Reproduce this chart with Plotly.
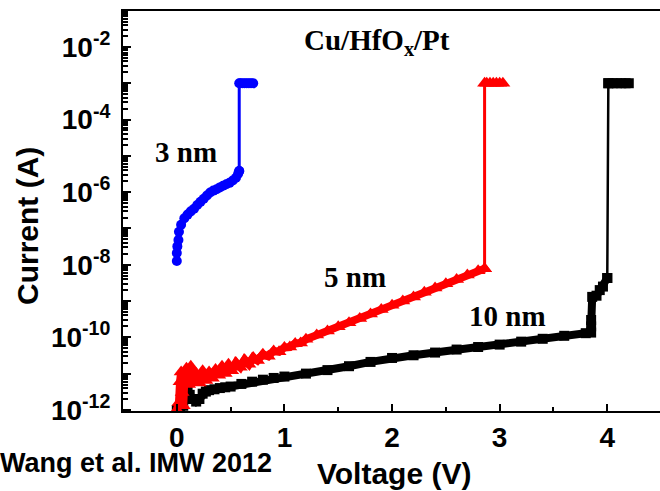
import plotly.graph_objects as go

# ---- measured I-V sweeps for Cu/HfOx/Pt cells of three thicknesses ----
# 3 nm (blue circles): forming sweep, then set jump to compliance
blue_sweep_v = [0.00, 0.00, 0.005, 0.015, 0.02, 0.04, 0.07, 0.10, 0.13, 0.16, 0.19, 0.22,
                0.25, 0.28, 0.31, 0.34, 0.37, 0.40, 0.43, 0.46, 0.49, 0.52, 0.55, 0.57, 0.58]
blue_sweep_i = [1.26e-8, 2.1e-8, 3.2e-8, 4.8e-8, 8.1e-8, 1.26e-7, 1.9e-7, 2.4e-7, 2.95e-7,
                3.5e-7, 4.4e-7, 5.4e-7, 6.6e-7, 8.1e-7, 9.8e-7, 1.1e-6, 1.2e-6, 1.35e-6,
                1.5e-6, 1.65e-6, 1.8e-6, 2.1e-6, 2.5e-6, 3.2e-6, 3.8e-6]
blue_set_v = [0.58, 0.58, 0.59, 0.61, 0.63, 0.65, 0.67, 0.69, 0.71]
blue_set_i = [3.8e-6, 1e-3, 1e-3, 1e-3, 1e-3, 1e-3, 1e-3, 1e-3, 1e-3]

# 5 nm (red triangles)
red_sweep_v = [0.00, 0.02, 0.03, 0.04, 0.05, 0.06, 0.07, 0.09, 0.11, 0.13, 0.15, 0.18, 0.21,
               0.24, 0.27, 0.30, 0.33, 0.36, 0.39, 0.42, 0.45, 0.48, 0.51, 0.55, 0.59, 0.63,
               0.67, 0.71, 0.75, 0.80, 0.85, 0.90, 0.95, 1.00, 1.05, 1.10, 1.15, 1.20, 1.30,
               1.40, 1.50, 1.60, 1.70, 1.80, 1.90, 2.00, 2.10, 2.20, 2.30, 2.40, 2.50, 2.60,
               2.70, 2.80, 2.86]
red_sweep_i = [1.0e-12, 1.6e-12, 6.0e-12, 1.1e-11, 3.0e-12, 1.3e-12, 7.0e-12, 1.4e-11,
               5.0e-12, 1.6e-11, 6.0e-12, 1.0e-11, 5.5e-12, 1.2e-11, 6.5e-12, 1.1e-11,
               7.5e-12, 1.3e-11, 9.0e-12, 1.6e-11, 1.0e-11, 1.8e-11, 1.2e-11, 2.0e-11,
               1.5e-11, 2.4e-11, 1.8e-11, 2.8e-11, 2.3e-11, 3.4e-11, 3.0e-11, 4.2e-11,
               4.0e-11, 5.2e-11, 5.4e-11, 6.8e-11, 7.0e-11, 8.8e-11, 1.15e-10, 1.5e-10,
               1.95e-10, 2.5e-10, 3.3e-10, 4.4e-10, 5.8e-10, 7.6e-10, 1.0e-9, 1.3e-9,
               1.75e-9, 2.3e-9, 3.0e-9, 3.9e-9, 5.2e-9, 6.8e-9, 7.8e-9]
red_set_v = [2.86, 2.86, 2.88, 2.91, 2.94, 2.97, 3.00, 3.03]
red_set_i = [7.8e-9, 1e-3, 1e-3, 1e-3, 1e-3, 1e-3, 1e-3, 1e-3]

# 10 nm (black squares)
black_sweep_v = [0.00, 0.03, 0.06, 0.08, 0.10, 0.12, 0.15, 0.18, 0.21, 0.24, 0.27, 0.30,
                 0.35, 0.40, 0.45, 0.50, 0.60, 0.70, 0.80, 0.90, 1.00, 1.20, 1.40, 1.60,
                 1.80, 2.00, 2.20, 2.40, 2.60, 2.80, 3.00, 3.20, 3.40, 3.60, 3.80, 3.85,
                 3.85, 3.85, 3.86, 3.90, 3.93, 3.96, 4.00]
black_sweep_i = [1.0e-12, 1.0e-12, 1.3e-12, 2.8e-12, 3.2e-12, 2.6e-12, 2.0e-12, 1.7e-12,
                 2.0e-12, 2.8e-12, 3.2e-12, 3.5e-12, 3.7e-12, 4.0e-12, 4.2e-12, 4.4e-12,
                 5.2e-12, 6.0e-12, 6.8e-12, 7.6e-12, 8.3e-12, 1.0e-11, 1.25e-11, 1.6e-11,
                 2.1e-11, 2.7e-11, 3.2e-11, 3.8e-11, 4.6e-11, 5.4e-11, 6.3e-11, 7.6e-11,
                 9.1e-11, 1.1e-10, 1.3e-10, 1.35e-10, 2.0e-10, 3.0e-10, 1.3e-9, 1.4e-9,
                 2.0e-9, 2.5e-9, 4.3e-9]
black_set_v = [4.00, 4.01, 4.01, 4.05, 4.09, 4.13, 4.17, 4.20]
black_set_i = [4.3e-9, 1e-3, 1e-3, 1e-3, 1e-3, 1e-3, 1e-3, 1e-3]

# ---- axis ticks ----
y_tick_vals = [1e-12, 1e-11, 1e-10, 1e-9, 1e-8, 1e-7, 1e-6, 1e-5, 1e-4, 1e-3, 1e-2]
y_tick_text = ["10<sup>-12</sup>", "", "10<sup>-10</sup>", "", "10<sup>-8</sup>", "",
               "10<sup>-6</sup>", "", "10<sup>-4</sup>", "", "10<sup>-2</sup>"]
x_tick_vals = [0, 1, 2, 3, 4]
x_tick_text = ["0", "1", "2", "3", "4"]

y_minor_vals = [m * 10.0 ** e for e in range(-13, -1) for m in range(2, 10)]

SANS = "Arial, Liberation Sans, sans-serif"
SERIF = "Times New Roman, Liberation Serif, serif"

fig = go.Figure()


def add_series(sv, si, tv, ti, color, symbol, msize, band_w, jump_w):
    # thick low-current sweep band
    fig.add_trace(go.Scatter(
        x=sv, y=si, mode="lines+markers",
        line=dict(color=color, width=band_w),
        marker=dict(color=color, symbol=symbol, size=msize, line=dict(width=0)),
        showlegend=False, hoverinfo="skip"))
    # abrupt set transition and compliance plateau
    fig.add_trace(go.Scatter(
        x=tv, y=ti, mode="lines+markers",
        line=dict(color=color, width=jump_w),
        marker=dict(color=color, symbol=symbol, size=msize, line=dict(width=0)),
        showlegend=False, hoverinfo="skip"))


add_series(black_sweep_v, black_sweep_i, black_set_v, black_set_i,
           "#000000", "square", 10, 8, 2.5)
add_series(red_sweep_v, red_sweep_i, red_set_v, red_set_i,
           "#ff0000", "triangle-up", 13, 8, 3)
add_series(blue_sweep_v, blue_sweep_i, blue_set_v, blue_set_i,
           "#0000ff", "circle", 10, 6, 3)

fig.update_layout(
    width=660, height=491,
    margin=dict(l=123, r=0, t=11, b=80),
    paper_bgcolor="white", plot_bgcolor="white",
    showlegend=False,
)

fig.update_xaxes(
    range=[-0.5, 4.49],
    tickmode="array", tickvals=x_tick_vals, ticktext=x_tick_text,
    ticks="inside", ticklen=7, tickwidth=2, tickcolor="black",
    minor=dict(tickmode="array", tickvals=[0.5, 1.5, 2.5, 3.5], ticks="inside",
               ticklen=4, tickwidth=2, tickcolor="black"),
    showline=True, linewidth=2, linecolor="black", mirror=True,
    showgrid=False, zeroline=False,
    tickfont=dict(family=SANS, size=28, color="black", weight="bold"),
    ticklabelstandoff=0,
)

fig.update_yaxes(
    type="log", range=[-12.03, -1.01],
    tickmode="array", tickvals=y_tick_vals, ticktext=y_tick_text,
    ticks="inside", ticklen=8, tickwidth=2, tickcolor="black",
    minor=dict(tickmode="array", tickvals=y_minor_vals, ticks="inside",
               ticklen=5, tickwidth=1.5, tickcolor="black"),
    showline=True, linewidth=2, linecolor="black", mirror=False,
    showgrid=False, zeroline=False,
    tickfont=dict(family=SANS, size=28, color="black", weight="bold"),
    ticklabelstandoff=5,
)

serif_font = dict(family=SERIF, size=29, color="black", weight="bold")
sans_title = dict(family=SANS, size=30, color="black", weight="bold")

fig.add_annotation(x=1.165, y=-1.86, xref="x", yref="y", text="Cu/HfO<sub>x</sub>/Pt",
                   showarrow=False, xanchor="left", yanchor="middle", font=serif_font)
fig.add_annotation(x=0.087, y=-4.89, xref="x", yref="y", text="3 nm",
                   showarrow=False, xanchor="center", yanchor="middle", font=serif_font)
fig.add_annotation(x=1.66, y=-8.34, xref="x", yref="y", text="5 nm",
                   showarrow=False, xanchor="center", yanchor="middle", font=serif_font)
fig.add_annotation(x=3.07, y=-9.41, xref="x", yref="y", text="10 nm",
                   showarrow=False, xanchor="center", yanchor="middle", font=serif_font)

fig.add_annotation(x=0.505, y=-0.155, xref="paper", yref="paper", text="Voltage (V)",
                   showarrow=False, xanchor="center", yanchor="middle", font=sans_title)
fig.add_annotation(x=-0.1788, y=0.4625, xref="paper", yref="paper", text="Current (A)",
                   textangle=-90, showarrow=False, xanchor="center", yanchor="middle",
                   font=sans_title)
fig.add_annotation(x=-0.2325, y=-0.13, xref="paper", yref="paper",
                   text="Wang et al. IMW 2012", showarrow=False,
                   xanchor="left", yanchor="middle",
                   font=dict(family=SANS, size=27, color="black", weight="bold"))

fig.write_html("out.html")
